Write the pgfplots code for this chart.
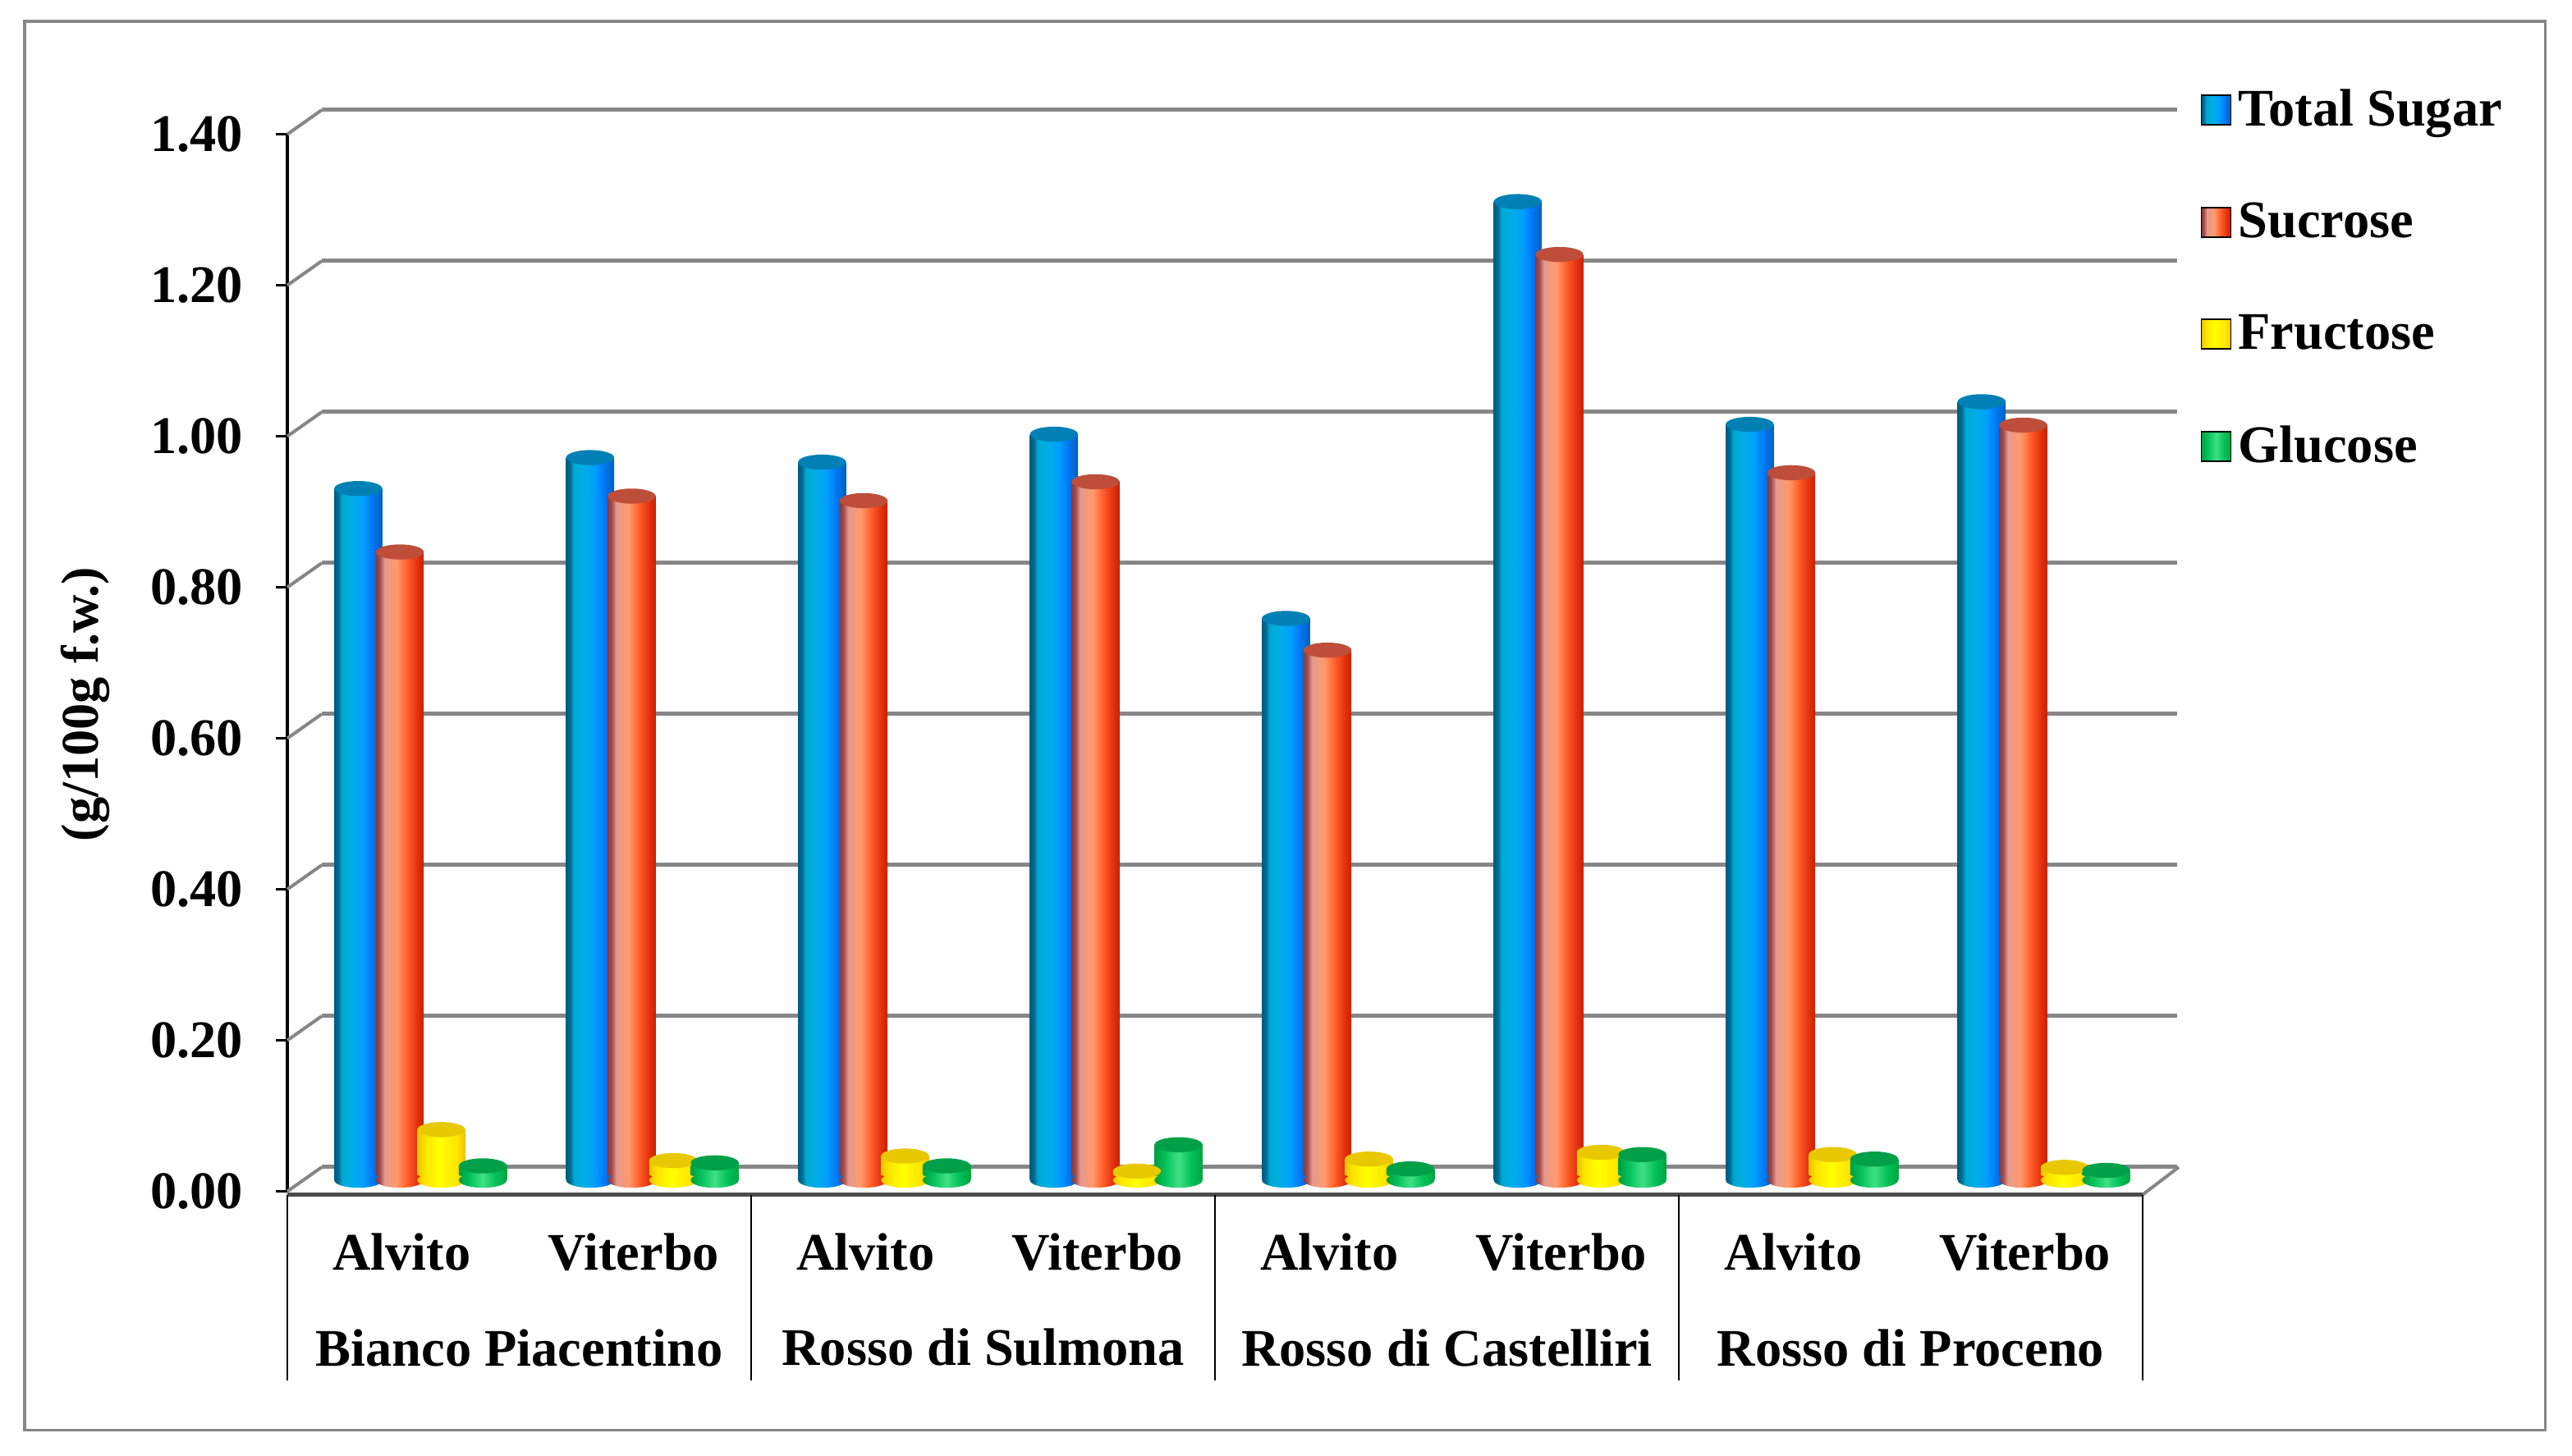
\documentclass[border=0pt]{standalone}
\usepackage{fontspec}
\setmainfont{Liberation Serif}
\usepackage{pgfplots}
\pgfplotsset{compat=1.18}
\pgfdeclarehorizontalshading{cylblue}{100bp}{rgb(0bp)=(0,.36,.5);rgb(25bp)=(0,.36,.5);rgb(29bp)=(0,.42,.58);rgb(33bp)=(0,.66,.82);rgb(45bp)=(0,.68,.92);rgb(55bp)=(0,.62,1);rgb(66bp)=(0,.45,.95);rgb(75bp)=(0,.38,.72);rgb(100bp)=(0,.38,.72)}
\pgfdeclarehorizontalshading{cylred}{100bp}{rgb(0bp)=(.55,.22,.22);rgb(25bp)=(.55,.22,.22);rgb(29bp)=(.62,.3,.3);rgb(34bp)=(.9,.6,.55);rgb(47bp)=(1,.6,.42);rgb(58bp)=(1,.36,.15);rgb(69bp)=(.88,.18,.05);rgb(75bp)=(.75,.14,.02);rgb(100bp)=(.75,.14,.02)}
\pgfdeclarehorizontalshading{cylyellow}{100bp}{rgb(0bp)=(.92,.76,0);rgb(25bp)=(.92,.76,0);rgb(33bp)=(1,.9,0);rgb(48bp)=(1,1,0);rgb(66bp)=(1,.9,0);rgb(75bp)=(.93,.76,0);rgb(100bp)=(.93,.76,0)}
\pgfdeclarehorizontalshading{cylgreen}{100bp}{rgb(0bp)=(0,.62,.25);rgb(25bp)=(0,.62,.25);rgb(35bp)=(0,.75,.35);rgb(50bp)=(.25,.88,.52);rgb(64bp)=(0,.75,.35);rgb(75bp)=(0,.65,.25);rgb(100bp)=(0,.65,.25)}
\definecolor{capblue}{RGB}{0,128,180}
\definecolor{capred}{RGB}{190,78,58}
\definecolor{capyellow}{RGB}{232,200,0}
\definecolor{capgreen}{RGB}{0,160,72}
\definecolor{gridgray}{RGB}{134,134,134}
\pgfdeclareplotmark{cap}{\pgfpathellipse{\pgfpointorigin}{\pgfqpoint{7.3pt}{0pt}}{\pgfqpoint{0pt}{2.3pt}}\pgfusepathqfill}
\newcommand\declbot[1]{\pgfdeclareplotmark{bot#1}{\pgfpathellipse{\pgfpointorigin}{\pgfqpoint{7.3pt}{0pt}}{\pgfqpoint{0pt}{2.3pt}}\pgfshadepath{cyl#1}{0}\pgfusepath{discard}}}
\declbot{blue}\declbot{red}\declbot{yellow}\declbot{green}
% one cylinder: colour, x position, value
\newcommand\cyl[3]{%
  \addplot[only marks,mark=bot#1,forget plot] coordinates {(#2,0)};
  \addplot[ybar,bar width=14.6pt,bar shift=0pt,draw=none,shade,shading=cyl#1,forget plot] coordinates {(#2,#3)};
  \addplot[only marks,mark=cap,mark options={fill=cap#1,draw=none},forget plot] coordinates {(#2,#3)};
}
\newcommand\lab{\fontsize{16.1}{18}\selectfont\bfseries}
\pgfplotsset{base/.style={scale only axis,width=565pt,height=322pt,xmin=-0.5,xmax=7.5,ymin=0,ymax=1.4,anchor=south west,clip=false}}
\begin{document}
\begin{tikzpicture}
\useasboundingbox (0pt,0pt) rectangle (783.25pt,443.5pt);
\draw[gridgray,line width=0.8pt] (7.5pt,7.8pt) rectangle (775.2pt,437pt);
% back wall
\begin{axis}[base,at={(98pt,88pt)},axis line style={draw=none},tick style={draw=none},xtick=\empty,ytick={0,0.2,...,1.4},yticklabels={},ymajorgrids,grid style={gridgray,line width=1.25pt}]
\end{axis}
% front axis
\begin{axis}[base,at={(87.5pt,80.6pt)},
  axis x line*=bottom,axis y line*=left,
  x axis line style={draw=none,-},y axis line style={black,line width=0.9pt,-},
  tick align=outside,major tick length=3.5pt,
  y tick style={black,line width=0.9pt},x tick style={draw=none},
  xtick={0,...,7},xticklabels={Alvito,Viterbo,Alvito,Viterbo,Alvito,Viterbo,Alvito,Viterbo},
  xticklabel style={font=\lab,xshift=-0.5pt,yshift=-6pt,text height=11pt,text depth=0pt},
  ytick={0,0.2,...,1.4},
  yticklabel style={font=\lab,xshift=-6.5pt},
  /pgf/number format/assume math mode=true,
  /pgf/number format/fixed,/pgf/number format/fixed zerofill,/pgf/number format/precision=2,
  legend style={at={(rel axis cs:1,1)},anchor=north west,xshift=17.5pt,yshift=15.9pt,draw=none,fill=none,
    row sep=17.85pt,cells={anchor=west},font=\lab,inner sep=0pt},
  legend cell align=left]
\addlegendimage{legend image code/.code={\shade[shading=cylblue] (-1pt,-4.5pt) rectangle (8pt,4.5pt);}}
\addlegendentry{Total Sugar}
\addlegendimage{legend image code/.code={\shade[shading=cylred] (-1pt,-4.5pt) rectangle (8pt,4.5pt);}}
\addlegendentry{Sucrose}
\addlegendimage{legend image code/.code={\shade[shading=cylyellow] (-1pt,-4.5pt) rectangle (8pt,4.5pt);}}
\addlegendentry{Fructose}
\addlegendimage{legend image code/.code={\shade[shading=cylgreen] (-1pt,-4.5pt) rectangle (8pt,4.5pt);}}
\addlegendentry{Glucose}
\pgfplotsinvokeforeach{0,0.2,0.4,0.6,0.8,1.0,1.2,1.4}{\draw[gridgray,line width=1pt] (axis cs:-0.5,#1) -- ++(10.5pt,7.4pt);}
\draw[gridgray,line width=1pt] ([yshift=-1pt]axis cs:7.5,0) -- ++(11pt,8.4pt);
\draw[gray!60!black,line width=1.4pt] ([yshift=-1pt]axis cs:-0.5,0) -- ([yshift=-1pt]axis cs:7.5,0);
\pgfplotsinvokeforeach{-0.5,1.5,3.5,5.5,7.5}{\draw[black,line width=0.7pt] ([yshift=-1pt]axis cs:#1,0) -- ++(0pt,-56.6pt);}
\node[font=\lab,anchor=center] at ([yshift=-47.6pt]axis cs:0.5,0) {Bianco Piacentino};
\node[font=\lab,anchor=center] at ([yshift=-47.6pt]axis cs:2.5,0) {Rosso di Sulmona};
\node[font=\lab,anchor=center] at ([yshift=-47.6pt]axis cs:4.5,0) {Rosso di Castelliri};
\node[font=\lab,anchor=center] at ([yshift=-47.6pt]axis cs:6.5,0) {Rosso di Proceno};
\end{axis}
\node[rotate=90,font=\lab] at (26pt,229pt) {(g/100g f.w.)};
% bars at mid depth
\begin{axis}[base,at={(92.75pt,84pt)},hide axis]
\cyl{blue}{-0.2685}{0.916}\cyl{blue}{0.7315}{0.957}\cyl{blue}{1.7315}{0.951}\cyl{blue}{2.7315}{0.988}\cyl{blue}{3.7315}{0.744}\cyl{blue}{4.7315}{1.296}\cyl{blue}{5.7315}{1.001}\cyl{blue}{6.7315}{1.031}
\cyl{red}{-0.0895}{0.832}\cyl{red}{0.9105}{0.906}\cyl{red}{1.9105}{0.900}\cyl{red}{2.9105}{0.925}\cyl{red}{3.9105}{0.702}\cyl{red}{4.9105}{1.226}\cyl{red}{5.9105}{0.937}\cyl{red}{6.9105}{1.000}
\cyl{yellow}{0.0895}{0.067}\cyl{yellow}{1.0895}{0.026}\cyl{yellow}{2.0895}{0.032}\cyl{yellow}{3.0895}{0.012}\cyl{yellow}{4.0895}{0.028}\cyl{yellow}{5.0895}{0.037}\cyl{yellow}{6.0895}{0.034}\cyl{yellow}{7.0895}{0.017}
\cyl{green}{0.2685}{0.019}\cyl{green}{1.2685}{0.023}\cyl{green}{2.2685}{0.019}\cyl{green}{3.2685}{0.047}\cyl{green}{4.2685}{0.015}\cyl{green}{5.2685}{0.034}\cyl{green}{6.2685}{0.028}\cyl{green}{7.2685}{0.013}
\end{axis}
\end{tikzpicture}
\end{document}
